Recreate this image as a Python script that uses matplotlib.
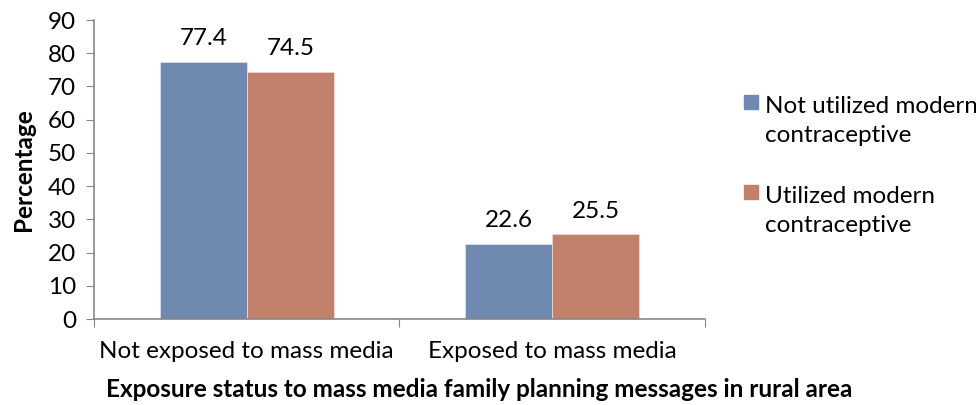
import matplotlib
matplotlib.use("Agg")
from matplotlib import pyplot as plt
from matplotlib.patches import Rectangle
import numpy as np

categories = ["Not exposed to mass media", "Exposed to mass media"]
not_utilized = [77.4, 22.6]
utilized = [74.5, 25.5]
series_names = ["Not utilized modern\ncontraceptive", "Utilized modern\ncontraceptive"]
yticks = [0, 10, 20, 30, 40, 50, 60, 70, 80, 90]

plt.rcParams['font.family'] = ['Lato', 'DejaVu Sans']

W, H = 976, 405
fig = plt.figure(figsize=(9.76, 4.05), dpi=100)
ax = fig.add_axes([0.0963, 0.2123, 0.626, 0.7383])

x = np.arange(len(categories))
w = 0.285
blue = "#7089b0"
orange = "#c0806a"
colors = [blue, orange]
b1 = ax.bar(x - w / 2, not_utilized, w, color=blue, edgecolor="#dfe4ee", linewidth=0.5)
b2 = ax.bar(x + w / 2, utilized, w, color=orange, edgecolor="#f0ddd6", linewidth=0.5)

for bars, vals in ((b1, not_utilized), (b2, utilized)):
    for r, v in zip(bars, vals):
        ax.text(r.get_x() + r.get_width() / 2, v + 7, "%.1f" % v,
                ha="center", va="center", fontsize=17.5)

ax.set_xlim(-0.5, 1.5)
ax.set_ylim(0, 90)
ax.set_yticks(yticks)
ax.tick_params(axis="y", labelsize=17.5, length=6, color="#868686", pad=7)
ax.set_xticks([-0.5, 0.5, 1.5])
ax.set_xticklabels([])
ax.set_xticks(x, minor=True)
ax.set_xticklabels(categories, minor=True, fontsize=17.5)
ax.tick_params(axis="x", which="major", length=6, color="#868686")
ax.tick_params(axis="x", which="minor", length=0, pad=16)

for s in ("top", "right"):
    ax.spines[s].set_visible(False)
for s in ("left", "bottom"):
    ax.spines[s].set_color("#868686")
    ax.spines[s].set_linewidth(1.2)

ax.set_ylabel("Percentage", fontsize=17.5, fontweight="bold", labelpad=9)
ax.set_xlabel("Exposure status to mass media family planning messages in rural area",
              fontsize=17.5, fontweight="bold", labelpad=11)
ax.xaxis.label.set_x(0.63)

# legend: square aligned with the first line of each label
for i, (name, c) in enumerate(zip(series_names, colors)):
    first = 110 + i * 90
    fig.patches.append(Rectangle((744 / W, 1 - (first - 1) / H), 14 / W, 14 / H,
                                 transform=fig.transFigure, color=c))
    fig.text(765 / W, 1 - (first + 32) / H, name, fontsize=17.5, va="baseline",
             ha="left", linespacing=1.45)

fig.savefig("out.png", dpi=100)
